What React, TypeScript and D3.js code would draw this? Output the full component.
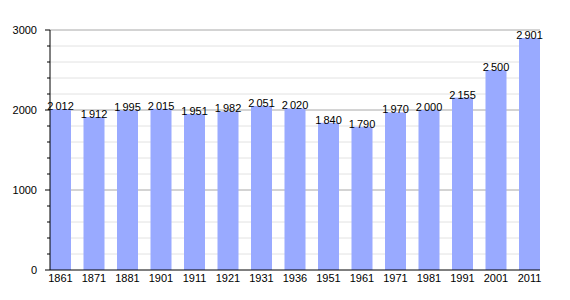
import React, { useEffect } from "react";
import * as d3 from "d3";

const years = ["1861","1871","1881","1901","1911","1921","1931","1936","1951","1961","1971","1981","1991","2001","2011"];
const population = [2012,1912,1995,2015,1951,1982,2051,2020,1840,1790,1970,2000,2155,2500,2901];
const majorTicks = [0, 1000, 2000, 3000];
const minorTicks = d3.range(0, 3001, 200);

const W = 570, H = 300;
const M = { left: 50, right: 30, top: 30, bottom: 30 };

function fmt(v: number) {
  const s = String(v);
  return s.length > 3 ? s.slice(0, s.length - 3) + "\u2009" + s.slice(-3) : s;
}

export default function App() {
  useEffect(() => { document.body.style.margin = "0"; }, []);
  const x = d3.scaleBand<string>().domain(years).range([M.left, W - M.right]).paddingInner(0.373).paddingOuter(0);
  const y = d3.scaleLinear().domain([0, 3000]).range([H - M.bottom, M.top]);
  const x0 = M.left, x1 = W - M.right;
  const font = "'Liberation Sans', Arial, sans-serif";
  return (
    <svg width={W} height={H} style={{ display: "block" }} fontFamily={font}>
      <rect width={W} height={H} fill="#fff" />
      {minorTicks.filter(t => t % 1000 !== 0).map(t => (
        <g key={"m" + t}>
          <line x1={x0} x2={x1} y1={y(t)} y2={y(t)} stroke="#e2e2e2" strokeWidth={1} />
          <line x1={x0 - 3} x2={x0} y1={y(t)} y2={y(t)} stroke="#000" strokeWidth={1} />
        </g>
      ))}
      {majorTicks.map(t => (
        <g key={"M" + t}>
          {t > 0 && <line x1={x0} x2={x1} y1={y(t)} y2={y(t)} stroke="#a8a8a8" strokeWidth={1} />}
          <line x1={x0 - 5} x2={x0} y1={y(t)} y2={y(t)} stroke="#000" strokeWidth={1} />
          <text x={37} y={y(t)} dy="0.35em" textAnchor="end" fontSize={11} fill="#000">{t}</text>
        </g>
      ))}
      {years.map((yr, i) => (
        <g key={yr}>
          <rect x={x(yr)} y={y(population[i])} width={x.bandwidth()} height={y(0) - y(population[i])} fill="#99aaff" />
          <text x={(x(yr) as number) + x.bandwidth() / 2} y={y(population[i]) + 1} textAnchor="middle" fontSize={11} fill="#000">{fmt(population[i])}</text>
          <text x={(x(yr) as number) + x.bandwidth() / 2} y={282} textAnchor="middle" fontSize={11} fill="#000">{yr}</text>
        </g>
      ))}
      <line x1={x0} x2={x0} y1={y(3000)} y2={y(0)} stroke="#000" strokeWidth={1} />
      <line x1={x0} x2={x1} y1={y(0)} y2={y(0)} stroke="#000" strokeWidth={1} />
    </svg>
  );
}
